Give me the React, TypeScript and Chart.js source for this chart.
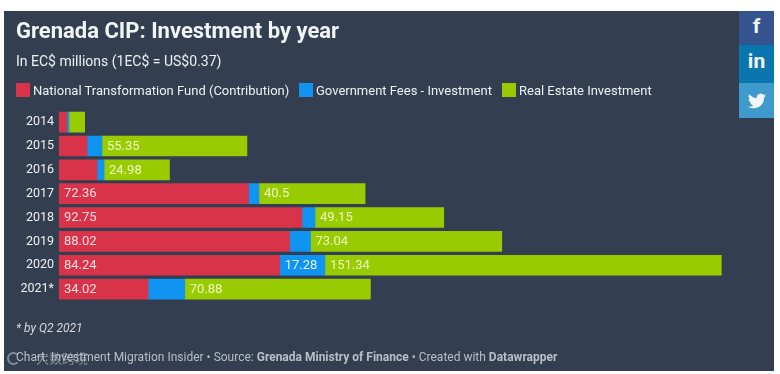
import React, { useEffect, useRef } from "react";
import { Chart, registerables } from "chart.js";

Chart.register(...registerables);

const years = ["2014", "2015", "2016", "2017", "2018", "2019", "2020", "2021*"];
const fund = [3, 10.7, 14.5, 72.36, 92.75, 88.02, 84.24, 34.02];
const fees = [0.8, 5.7, 2.7, 4, 5, 8, 17.28, 14];
const estate = [6, 55.35, 24.98, 40.5, 49.15, 73.04, 151.34, 70.88];
const seriesNames = [
  "National Transformation Fund (Contribution)",
  "Government Fees - Investment",
  "Real Estate Investment",
];
const seriesColors = ["#d83348", "#0f94f2", "#99cc00"];
const labelColors = ["#f6dfe2", "#e4f2fd", "#eef7c4"];
const legendLefts = [16, 299, 502];
const minLabelled = 17;
const FONT = "Roboto, sans-serif";

const valueLabels = {
  id: "valueLabels",
  afterDatasetsDraw(chart: any) {
    const { ctx } = chart;
    ctx.save();
    ctx.font = `13px ${FONT}`;
    ctx.textAlign = "left";
    ctx.textBaseline = "middle";
    chart.data.datasets.forEach((ds: any, i: number) => {
      chart.getDatasetMeta(i).data.forEach((bar: any, j: number) => {
        const v = ds.data[j];
        if (v < minLabelled) return;
        ctx.fillStyle = labelColors[i];
        ctx.fillText(String(v), bar.base + 5, bar.y + 0.5);
      });
    });
    ctx.restore();
  },
};

export default function App() {
  const ref = useRef<HTMLCanvasElement>(null);
  useEffect(() => {
    const chart = new Chart(ref.current!, {
      type: "bar",
      data: {
        labels: years,
        datasets: seriesNames.map((n, i) => ({
          label: n,
          data: [fund, fees, estate][i],
          backgroundColor: seriesColors[i],
          barThickness: 20,
          borderWidth: 0,
        })),
      },
      options: {
        indexAxis: "y",
        responsive: false,
        animation: false,
        layout: { padding: { left: 16, right: 40, top: 19, bottom: 73 } },
        plugins: {
          legend: { display: false },
          tooltip: { enabled: false },
          title: {
            display: true,
            text: "Grenada CIP: Investment by year",
            align: "start",
            color: "#f1f5f6",
            font: { family: FONT, size: 22, weight: "bold" },
            padding: { top: 0, bottom: 9 },
          },
          subtitle: {
            display: true,
            text: "In EC$ millions (1EC$ = US$0.37)",
            align: "start",
            color: "#eef1f3",
            font: { family: FONT, size: 14 },
            padding: { top: 0, bottom: 39 },
          },
        },
        scales: {
          x: { stacked: true, display: false, min: 0, max: 260 },
          y: {
            stacked: true,
            grid: { display: false, drawTicks: false },
            border: { display: false },
            afterFit(s: any) {
              s.width = 43;
            },
            ticks: {
              color: "#eef1f3",
              padding: 5,
              font: { family: FONT, size: 12.5 },
            },
          },
        },
      },
      plugins: [valueLabels],
    } as any);
    return () => chart.destroy();
  }, []);

  const text: React.CSSProperties = { position: "absolute", whiteSpace: "nowrap", fontFamily: FONT };
  return (
    <div style={{ position: "fixed", left: 0, top: 0, width: 780, height: 374, background: "#fff", overflow: "hidden" }}>
      <div style={{ position: "absolute", left: 4, top: 11, width: 770, height: 360, background: "#333e50" }} />
      <canvas ref={ref} width={780} height={374} style={{ position: "absolute", left: 0, top: 0 }} />
      {seriesNames.map((n, i) => (
        <div key={n} style={{ ...text, left: legendLefts[i], top: 83, height: 15, lineHeight: "15px", fontSize: 13, color: "#eef1f3" }}>
          <span style={{ display: "inline-block", width: 14, height: 14, background: seriesColors[i], marginRight: 3, verticalAlign: "top" }} />
          {n}
        </div>
      ))}
      <div style={{ ...text, left: 16, top: 321, fontSize: 12, fontStyle: "italic", color: "#d5d9de", lineHeight: "14px" }}>* by Q2 2021</div>
      <div style={{ ...text, left: 16, top: 350, fontSize: 12, color: "#b9bfc7", lineHeight: "14px" }}>
        Chart: Investment Migration Insider • Source: <b>Grenada Ministry of Finance</b> • Created with <b>Datawrapper</b>
      </div>
      <div style={{ position: "absolute", left: 7, top: 352, width: 9, height: 9, border: "2px solid rgba(190,195,200,0.6)", borderRightColor: "transparent", borderRadius: "50%" }} />
      <div style={{ ...text, left: 36, top: 351, fontSize: 13, color: "rgba(190,195,200,0.6)", lineHeight: "14px", fontFamily: "'Noto Sans CJK SC'" }}>大数跨境</div>
      <div style={{ position: "absolute", left: 739, top: 11, width: 35, height: 34, background: "#35548f", color: "#f2f6fa", textAlign: "center", fontFamily: FONT, fontWeight: 700, fontSize: 21, lineHeight: "30px" }}>f</div>
      <div style={{ position: "absolute", left: 739, top: 45, width: 35, height: 38, background: "#0a76b0", color: "#f2f6fa", textAlign: "center", fontFamily: FONT, fontWeight: 700, fontSize: 21, lineHeight: "32px" }}>in</div>
      <div style={{ position: "absolute", left: 739, top: 83, width: 35, height: 35, background: "#3d9acb" }}>
        <svg viewBox="0 0 24 24" width="18" height="18" style={{ position: "absolute", left: 8.5, top: 8.5 }}>
          <path fill="#f2f6fa" d="M23.95 4.57a10 10 0 0 1-2.82.77 4.96 4.96 0 0 0 2.16-2.72 9.9 9.9 0 0 1-3.12 1.18 4.92 4.92 0 0 0-8.38 4.48A14 14 0 0 1 1.64 3.16a4.92 4.92 0 0 0 1.52 6.57 4.9 4.9 0 0 1-2.23-.61v.06a4.92 4.92 0 0 0 3.95 4.83 5 5 0 0 1-2.21.08 4.94 4.94 0 0 0 4.6 3.42A9.87 9.87 0 0 1 0 19.54a14 14 0 0 0 7.56 2.21c9.05 0 14-7.5 14-13.98q0-.32-.02-.64a10 10 0 0 0 2.46-2.54z" />
        </svg>
      </div>
    </div>
  );
}
